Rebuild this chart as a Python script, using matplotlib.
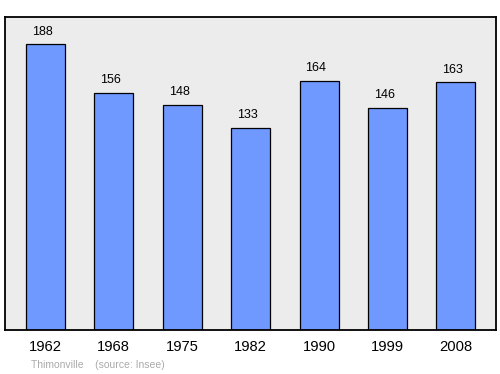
import matplotlib
matplotlib.use("Agg")
import matplotlib.pyplot as plt

years = ["1962", "1968", "1975", "1982", "1990", "1999", "2008"]
population = [188, 156, 148, 133, 164, 146, 163]

plt.rcParams['font.family'] = ['Liberation Sans', 'DejaVu Sans']

fig = plt.figure(figsize=(5, 3.74), dpi=100)
ax = fig.add_axes([5/500, 1 - 330/374, 491/500, 313/374])
ax.set_facecolor('#ececec')
x = list(range(len(years)))
ax.bar(x, population, width=0.57, color='#7099ff', edgecolor='black', linewidth=0.9, zorder=2)
for xi, v in zip(x, population):
    ax.annotate(str(v), (xi, v), xytext=(-2.2, 4.8), textcoords='offset points',
                ha='center', va='bottom', fontsize=9)
ax.set_xlim(-0.59, 6.585)
ax.set_ylim(0, 206)
ax.set_xticks(x)
ax.set_xticklabels(years, fontsize=10.6)
ax.tick_params(axis='x', length=0, pad=7.5)
ax.set_yticks([])
for s in ax.spines.values():
    s.set_linewidth(1.3)
fig.text(31/500, 1 - 365/374, "Thimonville    (source: Insee)", fontsize=7.5,
         color='#aaaaaa', ha='left', va='center')
fig.savefig("out.png", dpi=100, facecolor='white')
